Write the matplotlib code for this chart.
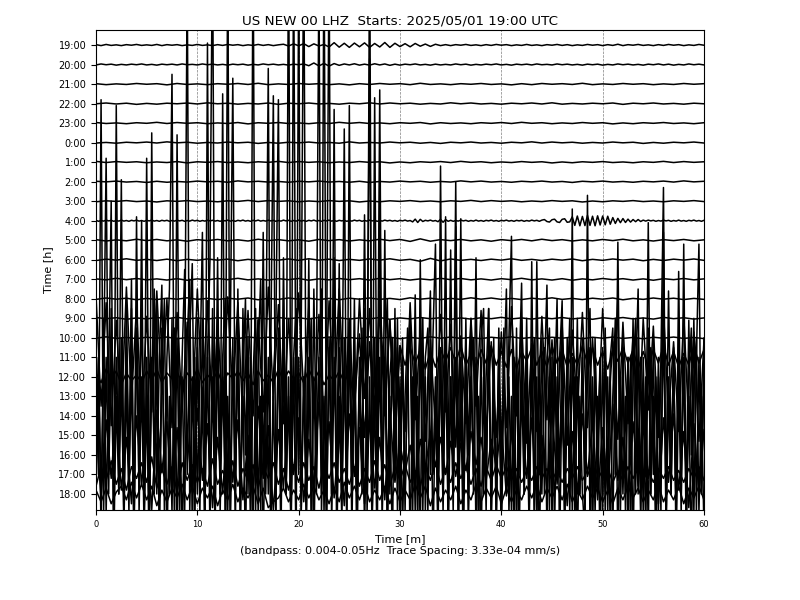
"""Helicorder (day plot) of US NEW 00 LHZ, one trace per hour."""

import matplotlib
matplotlib.use("Agg")
import matplotlib.pyplot as plt
import numpy as np

# hour labels, top to bottom
HOURS = ["19:00", "20:00", "21:00", "22:00", "23:00", "0:00", "1:00", "2:00",
         "3:00", "4:00", "5:00", "6:00", "7:00", "8:00", "9:00", "10:00",
         "11:00", "12:00", "13:00", "14:00", "15:00", "16:00", "17:00", "18:00"]

# trace values in 1/100 of the trace spacing; samples are evenly spread over 60 min
trace_1900 = [2, -3, 3, -2, 1, -3, 2, -1, 3, -2, 1, -2, 3, -3, 2, -1, 2, -3, 1, -2,
              3, -2, 1, -3, 2, -2, 3, -1, 2, -3, 1, -2, 3, -2, 2, -3, 1, 4, -5, 6,
              -4, 7, -8, 6, -5, 3, -10, 12, -11, 9, -12, 10, -9, 11, -12, 8, -10, 13, -12, 9,
              -8, 7, -9, 8, -6, 5, -7, 4, -3, 2, -3, 2, -1, 3, -2, 1, -3, 2, -2, 3,
              -1, 2, -3, 1, -2, 3, -2, 1, -3, 2, -1, 3, -2, 2, -3, 1, -2, 3, -1, 2,
              -3, 2, -2, 4, -3, 2, -1, 3, -2, 1, -3, 2, -2, 3, -1, 2, -3, 1, -2, 3, -1]
trace_2000 = [-2, 3, -1, 2, -3, 1, -2, 2, -1, 3, -2, 1, -3, 2, -1, 2, -2, 3, -1, 1,
              -2, 3, -1, 2, -2, 1, -3, 2, -1, 2, -3, 1, -2, 3, -1, 2, -2, 1, -3, 2,
              -1, 3, -6, 8, -7, 6, -8, 5, -4, 3, -2, 4, -3, 2, -3, 4, -2, 3, -4, 2,
              -3, 2, -1, 3, -2, 1, -3, 2, -2, 1, -2, 3, -1, 2, -3, 1, -2, 2, -1, 3,
              -2, 1, -3, 2, -1, 2, -2, 3, -1, 1, -2, 3, -1, 2, -2, 1, -3, 2, -1, 2,
              -3, 1, -2, 3, -1, 2, -2, 1, -3, 2, -1, 3, -2, 2, -3, 1, -2, 3, -1, 2, -2]
trace_2100 = [2, -3, 1, -2, 3, -1, 2, -4, 3, -2, 1, -3, 2, -1, 3, -2, 4, -3, 1, -2,
              3, -1, 2, -3, 1, -4, 2, -2, 3, -1, 2, -3, 4, -2, 1, -3, 2, -1, 3, -2,
              1, -4, 2, -3, 3, -1, 2, -2, 4, -3, 1, -2, 3, -1, 2, -3, 1, -2, 3, -1, 2]
trace_2200 = [-1, 3, -2, 2, -4, 1, -3, 2, -1, 3, -2, 4, -1, 2, -3, 1, -2, 3, -4, 2,
              -1, 3, -2, 1, -3, 2, -1, 4, -2, 3, -1, 2, -3, 1, -2, 4, -1, 3, -2, 1,
              -3, 2, -1, 3, -2, 4, -3, 1, -2, 2, -1, 3, -4, 2, -1, 3, -2, 1, -3, 2, -1]
trace_2300 = [3, -2, 1, -3, 2, -1, 4, -2, 3, -1, 2, -3, 1, -2, 3, -4, 2, -1, 3, -2,
              1, -3, 2, -2, 4, -1, 3, -2, 1, -3, 2, -1, 3, -4, 2, -2, 1, -3, 2, -1,
              3, -2, 4, -1, 2, -3, 1, -2, 3, -1, 2, -4, 1, -3, 2, -1, 3, -2, 1, -3, 2]
trace_0000 = [-2, 1, -3, 2, -1, 3, -2, 4, -1, 2, -3, 1, -2, 3, -1, 2, -4, 1, -3, 2,
              -1, 3, -2, 1, -3, 4, -2, 1, -2, 3, -1, 2, -3, 1, -4, 2, -1, 3, -2, 1,
              -3, 2, -1, 4, -2, 3, -1, 2, -3, 1, -2, 3, -1, 2, -4, 1, -3, 2, -1, 3, -2]
trace_0100 = [4, -2, 3, -1, 2, -3, 1, -2, 3, -4, 2, -1, 3, -2, 1, -3, 2, -1, 4, -2,
              3, -1, 2, -3, 1, -2, 3, -1, 2, -4, 1, -3, 2, -1, 3, -2, 4, -1, 2, -3,
              1, -2, 3, -1, 2, -4, 1, -3, 2, -1, 3, -2, 1, -3, 2, -1, 4, -2, 3, -1, 2]
trace_0200 = [2, -1, 3, -2, 1, -4, 2, -3, 1, -2, 3, -1, 2, -3, 4, -1, 2, -2, 1, -3,
              2, -1, 3, -2, 1, -3, 2, -4, 1, -2, 3, -1, 2, -3, 1, -2, 4, -1, 3, -2,
              1, -3, 2, -1, 3, -2, 1, -4, 2, -1, 3, -2, 1, -3, 2, -1, 3, -2, 4, -1, 2]
trace_0300 = [-3, 2, -1, 3, -2, 1, -4, 2, -1, 3, -2, 1, -3, 2, -1, 4, -2, 3, -1, 2,
              -3, 1, -2, 3, -1, 2, -4, 1, -3, 2, -1, 3, -2, 1, -3, 2, -1, 4, -2, 3,
              -1, 2, -3, 1, -2, 3, -1, 2, -4, 1, -3, 2, -1, 3, -2, 1, -3, 2, -1, 3, -2]
trace_0400 = [2, -3, 1, -2, 3, -1, 2, -3, 1, -2, 3, -2, 1, -3, 2, -1, 3, -2, 1, -3,
              2, -1, 3, -2, 1, -3, 2, -1, 2, -3, 1, -2, 3, -1, 2, -3, 1, -2, 3, -1,
              2, -3, 1, -2, 3, -1, 2, -2, 1, -3, 2, -1, 3, -2, 1, -3, 2, -1, 3, -2,
              1, -3, 2, -1, 3, -2, 1, -2, 3, -1, 2, -3, 1, -2, 3, -1, 2, -3, 1, -2,
              3, -2, 1, -3, 2, -1, 3, -2, 1, -3, 2, -1, 3, -2, 1, -3, 2, -1, 2, -3,
              1, -2, 3, -1, 2, -3, 1, -2, 3, -1, 2, -3, 1, -2, 3, -1, 2, -2, 1, -3,
              2, -1, 3, -2, 1, -6, 8, -9, 7, -4, 2, -1, 3, -2, 1, -5, 7, -8, 6, -3,
              2, -3, 1, -2, 3, -1, 2, -3, 1, -2, 3, -2, 1, -3, 2, -1, 3, -2, 1, -3,
              2, -1, 3, -2, 1, -3, 2, -1, 2, -3, 1, -2, 3, -1, 2, -3, 3, 6, -4, -7,
              5, 8, -6, -9, 7, 10, -8, -6, 20, -24, 24, -26, 22, -25, 27, -24, 23, -26, 25, -22,
              24, -21, 23, -18, 16, -14, 12, -10, 11, -9, 8, -7, 6, -5, 6, -4, 3, -2, 3, -1,
              2, -3, 1, -2, 3, -1, 2, -3, 1, -2, 3, -2, 1, -3, 2, -1, 3, -2, 1, -3, 2]
trace_0500 = [3, -4, 2, -3, 5, -2, 4, -3, 2, -5, 3, -2, 4, -3, 2, -4, 5, -2, 3, -3,
              2, -5, 4, -2, 3, -4, 2, -3, 5, -2, 4, -6, 7, -5, 3, -2, 4, -3, 2, -5,
              3, -2, 4, -3, 5, -2, 3, -4, 2, -3, 4, -2, 5, -3, 2, -4, 3, -2, 4, -3, 2]
trace_0600 = [-4, 3, -2, 5, -3, 2, -4, 3, -5, 2, -3, 4, -2, 3, -5, 2, -4, 3, -2, 4,
              -3, 5, -2, 3, -4, 2, -3, 4, -2, 5, -3, 2, -8, 7, -6, 4, -3, 2, -4, 3,
              -2, 5, -3, 2, -4, 3, -2, 4, -5, 2, -3, 4, -2, 3, -5, 2, -4, 3, -2, 4, -3]
trace_0700 = [2, -3, 5, -2, 4, -3, 2, -4, 3, -5, 2, -3, 4, -2, 5, -3, 2, -4, 3, -2,
              4, -5, 2, -3, 4, -2, 3, -4, 5, -2, 3, -4, 2, -3, 5, -2, 4, -3, 2, -4,
              3, -2, 5, -3, 2, -4, 3, -5, 2, -3, 4, -2, 3, -4, 2, -5, 3, -2, 4, -3, 2]
trace_0800 = [-3, 4, -2, 3, -5, 2, -4, 3, -2, 5, -3, 2, -4, 3, -2, 4, -5, 2, -3, 4,
              -2, 3, -4, 2, -5, 3, -2, 4, -3, 2, -4, 5, -2, 3, -4, 2, -3, 5, -2, 4,
              -3, 2, -4, 3, -2, 5, -3, 2, -4, 3, -2, 4, -5, 2, -3, 4, -2, 3, -4, 2, -3]
trace_0900 = [4, -2, 3, -5, 2, -3, 4, -2, 5, -3, 2, -4, 3, -2, 4, -5, 2, -3, 4, -2,
              3, -4, 5, -2, 3, -4, 2, -3, 4, -5, 2, -3, 4, -2, 3, -5, 2, -4, 3, -2,
              5, -3, 2, -4, 3, -2, 4, -3, 2, -5, 3, -2, 4, -3, 2, -4, 5, -2, 3, -4, 2]
trace_1000 = [-2, 5, -3, 2, -4, 3, -2, 4, -5, 2, -3, 4, -2, 3, -4, 5, -2, 3, -4, 2,
              -5, 3, -2, 4, -3, 2, -4, 5, -2, 3, -4, 2, -3, 5, -2, 4, -3, 2, -4, 3,
              -2, 5, -3, 2, -4, 3, -2, 4, -5, 3, -2, 4, -3, 2, -5, 3, -2, 4, -3, 2, -4]
trace_1100 = [320, -250, 280, -350, 190, -300, 360, -220, 260, -330,
              210, -280, 340, -190, 300, -360, 230, -270, 180, -310,
              350, -240, 290, -330, 170, -260, 310, -200, 280, -350,
              240, -300, 190, -280, 360, -220, 270, -340, 200, -250,
              330, -190, 260, -310, 220, -360, 290, -230, 350, -270,
              180, -320, 300, -210, 250, -290, 340, -240, 190, -300,
              60, -40, 50, -30, 40, -60, 30, -50, 40, -20,
              50, -30, 60, -40, 20, -50, 40, -30, 60, -40,
              30, -50, 40, -60, 30, -20, 50, -40, 30, -50,
              60, -30, 40, -50, 20, -40, 60, -30, 50, -40,
              30, -60, 40, -20, 50, -30, 40, -60, 30, -50,
              40, -30, 60, -40, 30, -50, 20, -40, 60, -30, 40]
trace_1200 = [20, -30, 40, -10, 30, -40, 20, -20, 10, -30,
              30, -20, 40, -30, 20, -10, 30, -40, 20, -20,
              40, -30, 10, -20, 30, -40, 20, -10, 30, -20,
              20, -40, 30, -20, 10, -30, 40, -20, 30, -10,
              20, -30, 40, -20, 30, -40, 10, -20, 30, -30,
              40, -150, 220, -310, 180, -260, 350, -200, 290, -340,
              160, -280, 380, -220, 250, -330, 190, -270, 320, -180,
              270, -360, 210, -240, 300, -150, 340, -290, 180, -310,
              230, -260, 360, -200, 290, -340, 170, -280, 310, -220,
              190, -300, 270, -350, 240, -180, 330, -260, 200, -290,
              350, -230, 180, -320, 280, -240, 210, -360, 300, -170,
              260, -310, 340, -200, 180, -280, 320, -250, 230, -330, 190]
trace_1300 = [-300, 200, -500, 100, 1220, -400, 300, -600, 200, -300,
              1110, -500, 250, -400, 600, -700, 300, -200, 450, -500,
              1220, -600, 200, -300, 500, -700, 350, -400, 200, 550,
              1650, -500, 300, -600, 200, 650, -400, 300, 680, -500,
              250, -600, 400, -300, 200, 700, 2400, -500, 300, -400,
              200, 500, -600, 300, 1630, -400, 200, -700, 450, -300,
              300, -500, 2400, -600, 200, 600, -400, 300, -500, 250,
              1540, -600, 300, -400, 500, -500, 2400, -600, 200, 450,
              -400, 300, 2400, -500, 200, -600, 550, -300, 200, -500,
              2400, -600, 300, -400, 710, -500, 250, -300, 1370, -600,
              300, -400, 500, -600, 200, -300, 450, -500, 2400, -700,
              300, -400, 1570, -600, 200, 500, -500, 300, -400, 250,
              -500, 300, -600, 200, 400, -400, 520, -500, 300, -600,
              200, 350, -400, 300, 780, -500, 200, -600, 300, -300,
              750, -500, 200, -400, 910, -600, 300, -300, 400, -500,
              200, -600, 300, 450, -400, 200, -500, 300, -600, 350,
              -300, 200, -500, 300, 820, -600, 200, -400, 300, -300,
              400, -500, 200, -600, 690, -400, 300, -500, 200, 350,
              -600, 300, -400, 200, 490, -500, 300, -600, 200, -300,
              400, -500, 300, -400, 200, 450, -600, 300, -300, 200,
              -500, 300, -600, 200, 350, -400, 790, -500, 300, -600,
              200, -300, 400, -500, 300, -600, 200, -400, 890, -500,
              300, -600, 200, -400, 350, -500, 540, -300, 200, -600,
              300, -400, 200, -500, 390, -300, 400, -600, 200, -500, 300]
trace_1400 = [400, -300, 1620, -500, 300, -400, 550, -600, 1590, -400,
              200, -500, 600, -300, 200, -600, 450, -400, 1000, -500,
              300, -600, 200, 650, -400, 300, 670, -500, 200, -400,
              500, -600, 1440, -300, 200, -500, 400, 700, -600, 300,
              -400, 200, 940, -500, 300, -600, 550, -300, 810, -500,
              200, -400, 2400, -600, 300, -300, 450, -500, 200, 600,
              -400, 300, -600, 200, 500, -500, 940, -400, 300, -600,
              200, 450, 1620, -500, 300, -400, 200, -600, 2400, -300,
              300, -500, 200, -300, 800, -600, 200, -400, 300, 650,
              -500, 200, 2400, -600, 300, -400, 780, -500, 200, -300,
              500, -600, 300, -400, 200, -400, 1030, -500, 200, -600,
              1630, -400, 300, -500, 950, -600, 200, 400, -300, 500,
              -600, 300, -400, 200, 450, -500, 300, -600, 800, -400,
              200, -500, 350, -300, 200, -600, 1280, -400, 300, -500,
              200, -300, 1200, -600, 300, -400, 500, -500, 200, -300,
              810, -600, 300, -400, 200, 550, -500, 300, -600, 200,
              -400, 450, -300, 200, -500, 300, -600, 200, 680, -400,
              300, -500, 200, 400, -600, 300, -400, 200, 670, -500,
              300, -600, 200, -300, 450, -500, 300, -400, 1060, -600,
              200, -400, 300, -500, 200, 350, -600, 300, -400, 200,
              -500, 450, -300, 200, -600, 300, 620, -500, 200, -400,
              300, -600, 200, 500, -400, 300, -500, 200, -600, 350,
              -300, 200, -500, 300, 1170, -600, 200, -400, 300, -500,
              740, -400, 300, -600, 200, 450, -500, 300, 880, -400, 200]
trace_1500 = [-300, 400, -500, 600, -400, 300, 1200, -600, 200, -300,
              500, -500, 300, -400, 650, -600, 1120, -400, 300, -500,
              200, -600, 1550, -300, 400, -500, 300, 700, -600, 200,
              -400, 550, -500, 300, -600, 200, 2400, -400, 300, -500,
              600, -300, 200, -600, 2010, -400, 300, -500, 450, -300,
              1750, -600, 200, -400, 500, -500, 750, -300, 200, -600,
              400, -500, 300, 650, -400, 200, -600, 300, 1880, -500,
              200, -400, 550, -600, 910, -300, 200, -500, 400, -600,
              2400, -400, 300, -500, 200, 600, -600, 300, 2400, -400,
              200, -500, 450, -300, 1670, -600, 200, -400, 500, -500,
              1690, -400, 300, -600, 200, 550, -500, 300, 1930, -400,
              200, -600, 1280, -300, 400, -500, 200, -600, 650, -400,
              300, -500, 200, 550, -600, 300, -400, 200, -500, 600,
              -400, 300, 740, -600, 200, -500, 450, -300, 1120, -600,
              300, -400, 1070, -500, 200, -600, 350, -400, 300, 500,
              -500, 200, -600, 300, -400, 650, -500, 200, -300, 400,
              -600, 300, 750, -400, 200, -500, 550, -600, 300, -300,
              200, -500, 890, -400, 300, -600, 200, 450, -500, 300,
              -400, 200, 700, -600, 300, -500, 200, 600, -400, 300,
              -600, 200, -300, -500, 1230, -500, 300, -400, 200, -600,
              450, -400, 300, -500, 200, 600, -600, 300, -300, 200,
              -500, 400, -600, 300, 750, -400, 200, -500, 550, -300,
              200, -600, 300, -400, 1040, -500, 200, -300, 450, -600,
              300, -400, 980, -500, 200, -600, 300, 500, -400, 200, -500]
trace_1600 = [150, -220, 180, -120, 260, -180, 90, -250, 200, -150,
              120, -280, 230, -90, 170, -210, 140, -260, 110, -190,
              240, -130, 160, -270, 90, -200, 210, -140, 180, -230,
              100, -180, 250, -120, 150, -290, 130, -170, 220, -100,
              190, -240, 80, -160, 270, -130, 170, -220, 120, -260,
              210, -110, 140, -250, 180, -170, 90, -230, 240, -140,
              60, -90, 50, -120, 80, -70, 110, -60, 90, -100,
              70, -110, 60, -80, 120, -50, 90, -130, 80, -60,
              160, -210, 130, -180, 250, -120, 190, -240, 100, -170,
              230, -150, 170, -260, 120, -200, 210, -110, 180, -230,
              140, -190, 260, -130, 90, -220, 170, -160, 230, -120,
              110, -250, 190, -140, 210, -180, 120, -270, 160, -200, 130]
trace_1700 = [-60, 40, -30, 70, -50, 30, -80, 40, -20, 60,
              -40, 90, -70, 30, -50, 40, -90, 60, -30, 50,
              -40, 30, -60, 80, -50, 20, -40, 70, -60, 30,
              -30, 50, -70, 40, -20, 60, -50, 30, -80, 50,
              -40, 60, -30, 40, -70, 50, -20, 60, -40, 30,
              -50, 40, -60, 30, -40, 70, -30, 50, -60, 40,
              -30, 50, -40, 20, -60, 40, -30, 60, -50, 30,
              -40, 60, -20, 40, -50, 30, -60, 40, -30, 50,
              -20, 40, -30, 30, -40, 20, -30, 40, -20, 30,
              -30, 20, -40, 30, -20, 40, -30, 20, -40, 30,
              -20, 30, -40, 20, -30, 40, -20, 30, -30, 20,
              -40, 30, -20, 40, -30, 20, -40, 30, -20, 40, -30]
trace_1800 = [20, -40, 30, -50, 10, 40, -30, 60, -20, 50,
              -30, 40, -60, 20, -40, 30, -20, 50, -30, 40,
              -50, 30, -20, 40, -60, 20, -30, 50, -40, 30,
              -20, 40, -50, 30, -70, -40, -20, 30, -40, 20,
              -30, 50, -20, 40, -30, 20, -50, 30, -40, 60,
              -20, 40, -30, 50, -40, 20, -30, 40, -50, 30,
              -40, 20, -30, 50, -20, 40, -60, 30, -40, 20,
              -30, 40, -50, 20, -30, 50, -40, 30, -20, 40,
              -50, 30, -40, 20, -30, 40, -20, 50, -40, 30,
              -20, 40, -30, 50, -40, 20, -30, 40, -20, 30,
              -40, 20, -50, 30, -30, 40, -20, 30, -40, 20,
              -30, 50, -40, 20, -30, 40, -50, 30, -20, 40, -30]

TRACES = [trace_1900, trace_2000, trace_2100, trace_2200, trace_2300, trace_0000,
          trace_0100, trace_0200, trace_0300, trace_0400, trace_0500, trace_0600,
          trace_0700, trace_0800, trace_0900, trace_1000, trace_1100, trace_1200,
          trace_1300, trace_1400, trace_1500, trace_1600, trace_1700, trace_1800]

TITLE = "US NEW 00 LHZ  Starts: 2025/05/01 19:00 UTC"
XLABEL = "Time [m]\n(bandpass: 0.004-0.05Hz  Trace Spacing: 3.33e-04 mm/s)"


def main():
    fig = plt.figure(figsize=(8, 6), dpi=100)
    ax = fig.add_axes([0.12, 0.15, 0.76, 0.80])

    for i, vals in enumerate(TRACES):
        v = np.asarray(vals, dtype=float) / 100.0
        t = np.linspace(0, 60, len(v))
        ax.plot(t, v - i, color="k", lw=1.1)

    ax.set_xlim(0, 60)
    ax.set_ylim(-23.82, 0.77)
    ax.set_yticks(-np.arange(len(HOURS)))
    ax.set_yticklabels(HOURS, fontsize=7)
    ax.set_xticks(range(0, 61, 10))
    ax.tick_params(axis="x", labelsize=6)
    ax.xaxis.grid(True, linestyle="--", color="grey", linewidth=0.5)

    ax.set_title(TITLE, fontsize=9.7, pad=4)
    ax.set_xlabel(XLABEL, fontsize=8)
    ax.set_ylabel("Time [h]", fontsize=8)

    fig.savefig("out.png", dpi=100)
    plt.close(fig)


if __name__ == "__main__":
    main()
